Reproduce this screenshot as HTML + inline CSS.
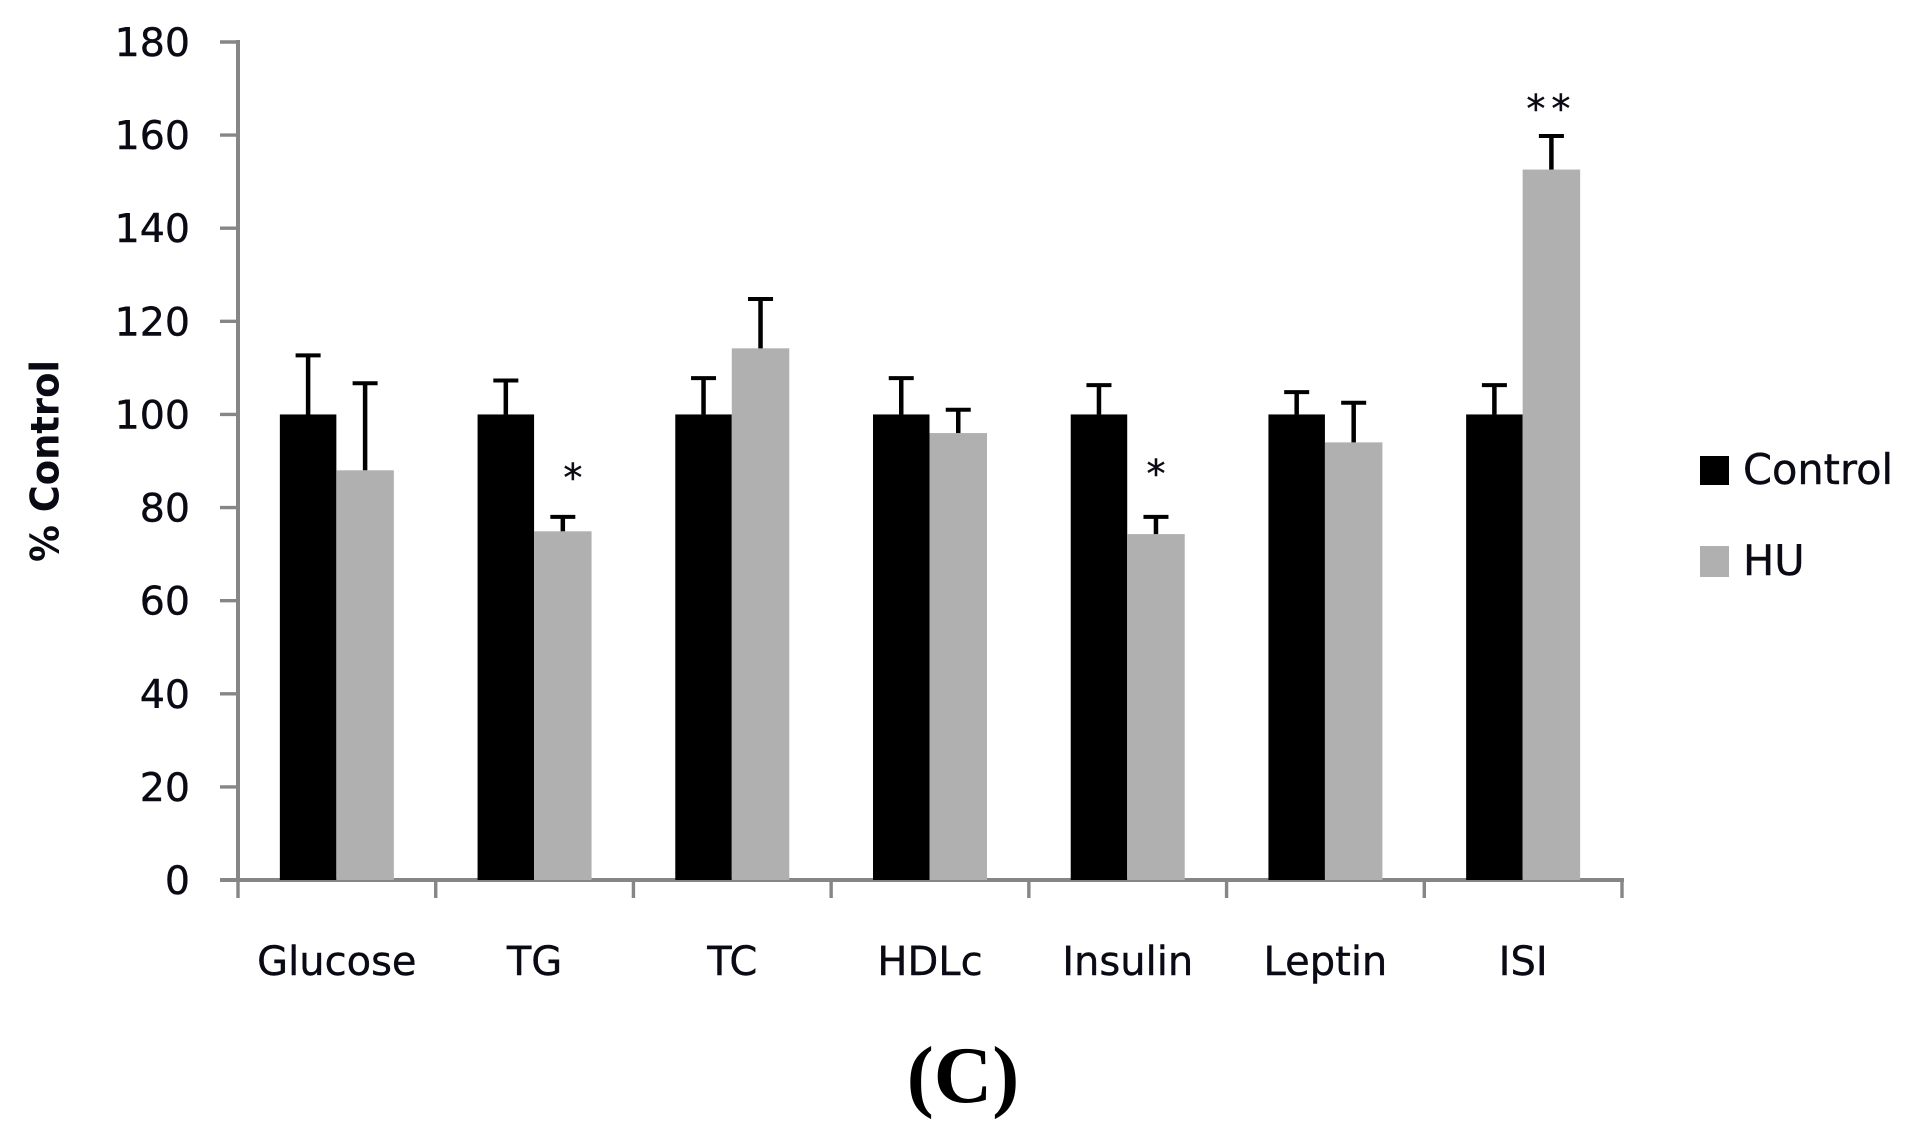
<!DOCTYPE html>
<html lang="en">
<head>
<meta charset="utf-8">
<title>% Control bar chart (C)</title>
<style>
html,body{margin:0;padding:0;background:#fff;width:1918px;height:1140px;overflow:hidden}
svg{display:block}
text{font-family:"DejaVu Sans","Liberation Sans",sans-serif;fill:#0a0a14;stroke:#0a0a14;stroke-width:0.4px}
</style>
</head>
<body>
<svg id="chart" xmlns="http://www.w3.org/2000/svg" width="1918" height="1140" viewBox="0 0 1918 1140">
  <text x="48" y="461" transform="rotate(-90 48 461)" text-anchor="middle" dominant-baseline="middle" font-size="39" font-weight="bold" textLength="202" lengthAdjust="spacingAndGlyphs" style="stroke-width:0">% Control</text>
  <g id="y-axis"></g>
  <g id="x-axis"></g>
  <g id="bars"></g>
  <g id="errors"></g>
  <g id="stars"></g>
  <g>
    <g>
      <rect x="1700" y="456" width="29" height="29" fill="#000"/>
      <text x="1743" y="484" font-size="41.5">Control</text>
    </g>
    <g>
      <rect x="1700" y="546" width="29" height="31" fill="#b0b0b0"/>
      <text x="1743" y="575" font-size="41.5">HU</text>
    </g>
  </g>
  <text x="963" y="1102" text-anchor="middle" font-size="81" font-weight="bold" style="font-family:'Liberation Serif',serif;fill:#000;stroke-width:0">(C)</text>
</svg>
<script>
const categories = ["Glucose", "TG", "TC", "HDLc", "Insulin", "Leptin", "ISI"];
const controlValues = [100, 100, 100, 100, 100, 100, 100];
const huValues = [88, 74.9, 114.2, 96, 74.3, 94, 152.6];
const controlErrors = [12.7, 7.3, 7.8, 7.8, 6.3, 4.8, 6.3];
const huErrors = [18.7, 3.1, 10.6, 5, 3.7, 8.5, 7.2];
const significance = ["", "*", "", "", "*", "", "**"];
const yTicks = [0, 20, 40, 60, 80, 100, 120, 140, 160, 180];

const NS = "http://www.w3.org/2000/svg";
const plot = { left: 238, right: 1622, top: 42, bottom: 880, yMax: 180 };
const barW = 56.5;
const axisColor = "#868686";
const starNudge = { TG: [10, -26], Insulin: [0, -30], ISI: [0, -14] };

function yScale(v) {
  return plot.bottom - (v / plot.yMax) * (plot.bottom - plot.top);
}
function xEdge(i) {
  return plot.left + (i / categories.length) * (plot.right - plot.left);
}
function xCenter(i) {
  return xEdge(i + 0.5);
}
function make(tag, parent) {
  const el = document.createElementNS(NS, tag);
  parent.appendChild(el);
  return el;
}
function set(el, props) {
  for (const k in props) el.setAttribute(k, props[k]);
  return el;
}

const yAxis = document.getElementById("y-axis");
const xAxis = document.getElementById("x-axis");
const barsG = document.getElementById("bars");
const errorsG = document.getElementById("errors");
const starsG = document.getElementById("stars");

// Y axis line, ticks and labels
const yLine = make("line", yAxis);


set(yLine, { x1: plot.left, x2: plot.left, y1: plot.top - 2, y2: plot.bottom + 2, stroke: axisColor, "stroke-width": 4 });

yTicks.forEach(function (t) {
  const tick = make("line", yAxis);
  
  
  set(tick, { x1: 220, x2: plot.left, y1: yScale(t), y2: yScale(t), stroke: axisColor, "stroke-width": 3.4 });

  const label = make("text", yAxis);
  
  
  set(label, { x: 190, y: yScale(t) + 14, "text-anchor": "end", "font-size": 39.5 });
  label.textContent = t;
});

// X axis line, ticks and labels
const xLine = make("line", xAxis);


set(xLine, { x1: 220, x2: plot.right + 2, y1: plot.bottom, y2: plot.bottom, stroke: axisColor, "stroke-width": 4 });

for (let i = 0; i <= categories.length; i++) {
  const tick = make("line", xAxis);
  
  
  set(tick, { x1: xEdge(i), x2: xEdge(i), y1: plot.bottom, y2: 898, stroke: axisColor, "stroke-width": 3.4 });
}

categories.forEach(function (c, i) {
  const label = make("text", xAxis);
  
  
  set(label, { x: xCenter(i), y: 975, "text-anchor": "middle", "font-size": 40 });
  label.textContent = c;
});

// Bars and error bars
function drawError(cx, value, err) {
  const top = yScale(value + err);
  const stem = make("line", errorsG);
  
  
  set(stem, { x1: cx, x2: cx, y1: yScale(value), y2: top, stroke: "#000", "stroke-width": 4.5 });

  const cap = make("line", errorsG);
  
  
  set(cap, { x1: cx - 12.5, x2: cx + 12.5, y1: top, y2: top, stroke: "#000", "stroke-width": 4 });
}

categories.forEach(function (c, i) {
  const cx = xCenter(i);

  const ctrl = make("rect", barsG);
  
  
  set(ctrl, { x: cx - barW - 0.5, y: yScale(controlValues[i]), width: barW, height: plot.bottom - yScale(controlValues[i]), fill: "#000" });

  const hu = make("rect", barsG);
  
  
  set(hu, { x: cx - 0.5, y: yScale(huValues[i]), width: barW + 1, height: plot.bottom - yScale(huValues[i]), fill: "#b0b0b0" });

  drawError(cx - barW / 2 - 0.5, controlValues[i], controlErrors[i]);
  drawError(cx + barW / 2, huValues[i], huErrors[i]);

  if (significance[i]) {
    const nudge = starNudge[c];
    const star = make("text", starsG);
    
    
    set(star, { x: cx + barW / 2 + nudge[0], y: yScale(huValues[i] + huErrors[i]) + nudge[1], "text-anchor": "middle", "font-size": 38, "letter-spacing": significance[i].length > 1 ? 6 : 0, "stroke-width": 1 });
    star.textContent = significance[i];
  }
});
</script>
</body>
</html>
